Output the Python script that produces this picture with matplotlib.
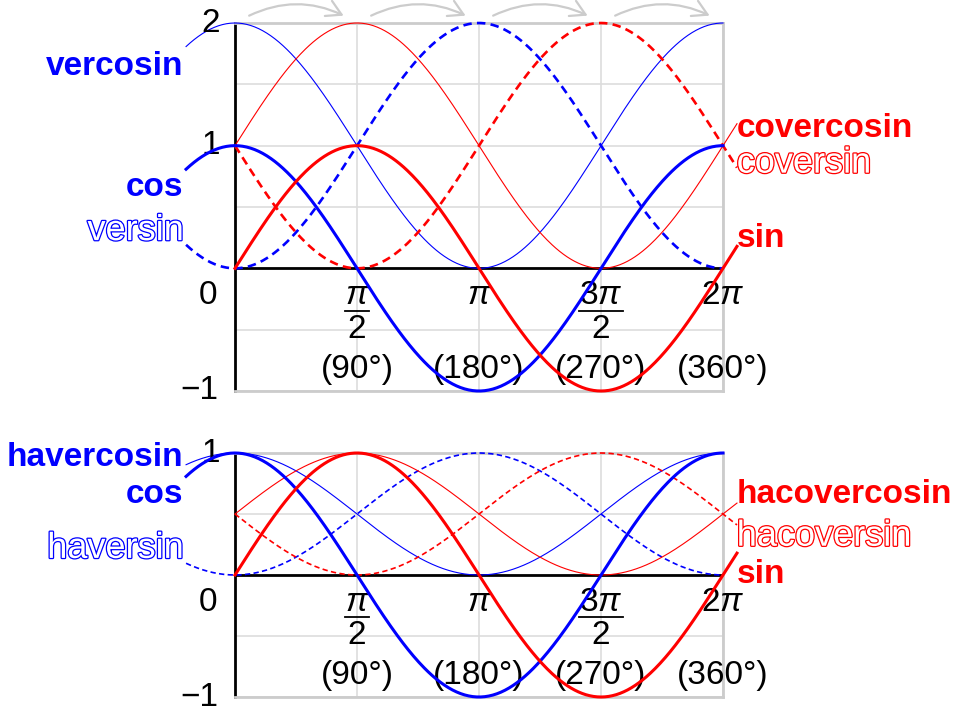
import numpy as np
import matplotlib.pyplot as plt
import matplotlib.patheffects as pe
from matplotlib import font_manager
from matplotlib.patches import FancyArrowPatch

plt.rcParams['font.family'] = ['Liberation Sans', 'DejaVu Sans']
plt.rcParams['mathtext.fontset'] = 'custom'
plt.rcParams['mathtext.rm'] = 'Liberation Sans'
plt.rcParams['mathtext.it'] = 'Liberation Sans:italic'

BLUE = '#0000ff'
RED = '#ff0000'

# narrow face if there is one, else plain Liberation Sans a bit smaller
_names = {f.name for f in font_manager.fontManager.ttflist}
if 'Liberation Sans Narrow' in _names:
    LABEL_FONT, BOLD_SIZE, OUTLINE_SIZE = 'Liberation Sans Narrow', 28, 29
else:
    LABEL_FONT, BOLD_SIZE, OUTLINE_SIZE = 'Liberation Sans', 24, 26
TICK_SIZE = 24

# x ticks (radians) and their labels: (numerator, denominator) or plain
x_ticks = np.pi * np.array([0.5, 1.0, 1.5, 2.0])
pi_labels = [(r'$\pi$', '2'), (r'$\pi$', None), (r'$3\pi$', '2'), (r'$2\pi$', None)]
deg_labels = ['(90°)', '(180°)', '(270°)', '(360°)']

# curves of each panel
top_names = ['vercosin', 'cos', 'versin', 'covercosin', 'coversin', 'sin']
top_funcs = [lambda x: 1 + np.cos(x), np.cos, lambda x: 1 - np.cos(x),
             lambda x: 1 + np.sin(x), lambda x: 1 - np.sin(x), np.sin]
bot_names = ['havercosin', 'cos', 'haversin', 'hacovercosin', 'hacoversin', 'sin']
bot_funcs = [lambda x: (1 + np.cos(x)) / 2, np.cos, lambda x: (1 - np.cos(x)) / 2,
             lambda x: (1 + np.sin(x)) / 2, lambda x: (1 - np.sin(x)) / 2, np.sin]
colors = [BLUE, BLUE, BLUE, RED, RED, RED]
kinds = ['thin', 'thick', 'dash', 'thin', 'dash', 'thick']
label_styles = ['bold', 'bold', 'outline', 'bold', 'outline', 'bold']

# label anchors (data x, baseline y)
top_label_pos = [(-0.66, 1.58), (-0.66, 0.59), (-0.66, 0.23),
                 (6.46, 1.07), (6.46, 0.78), (6.46, 0.17)]
bot_label_pos = [(-0.66, 0.89), (-0.66, 0.59), (-0.66, 0.14),
                 (6.46, 0.59), (6.46, 0.24), (6.46, -0.065)]

fig = plt.figure(figsize=(9.6, 7.2), dpi=100)
renderer = fig.canvas.get_renderer()


def draw_panel(ax, ymax, funcs, names, label_pos, dash_lw):
    ax.set_xlim(0, 2 * np.pi)
    ax.set_ylim(-1, ymax)
    ax.set_xticks(np.pi * np.arange(0, 2.01, 0.5))
    ax.set_yticks(np.arange(-1, ymax + 0.01, 0.5))
    ax.grid(color='#dddddd', lw=1.2)
    ax.tick_params(length=0, labelleft=False, labelbottom=False)
    for s in ['top', 'right', 'bottom']:
        ax.spines[s].set_color('#cccccc')
        ax.spines[s].set_linewidth(2)
    ax.spines['left'].set_color('black')
    ax.spines['left'].set_linewidth(2)
    ax.axhline(0, color='black', lw=2, zorder=2)

    for f, name, c, kind, style, (lx, ly) in zip(funcs, names, colors, kinds,
                                                 label_styles, label_pos):
        if c == BLUE:
            x = np.linspace(-0.63, 2 * np.pi, 400)
        else:
            x = np.linspace(0, 2 * np.pi + 0.18, 400)
        if kind == 'thick':
            ax.plot(x, f(x), color=c, lw=2.2, clip_on=False, zorder=4)
        elif kind == 'thin':
            ax.plot(x, f(x), color=c, lw=0.8, clip_on=False, zorder=3)
        else:
            ax.plot(x, f(x), color=c, lw=dash_lw, ls=(0, (3.2, 2)),
                    clip_on=False, zorder=3)
        ha = 'right' if c == BLUE else 'left'
        if style == 'bold':
            ax.text(lx, ly, name, color=c, fontsize=BOLD_SIZE, fontweight='bold',
                    family=LABEL_FONT, ha=ha, va='baseline')
        else:
            t = ax.text(lx, ly, name, color='white', fontsize=OUTLINE_SIZE,
                        family=LABEL_FONT, ha=ha, va='baseline')
            t.set_path_effects([pe.Stroke(linewidth=1.8, foreground=c),
                                pe.Normal()])

    # x tick labels: fraction rows and degrees
    y_num, y_bar, y_den, y_deg = -0.225, -0.345, -0.50, -0.825
    for xt, (num, den), dl in zip(x_ticks, pi_labels, deg_labels):
        t = ax.text(xt, y_num, num, fontsize=TICK_SIZE, ha='center', va='center')
        if den is not None:
            ax.text(xt, y_den, den, fontsize=TICK_SIZE, ha='center', va='center')
            bb = t.get_window_extent(renderer).transformed(ax.transData.inverted())
            ax.plot([bb.x0, bb.x1], [y_bar, y_bar], color='black', lw=1.3,
                    clip_on=False, zorder=5)
        ax.text(xt, y_deg, dl, fontsize=TICK_SIZE, ha='center', va='center')

    # y tick labels
    ax.text(-0.23, y_num, '0', fontsize=TICK_SIZE, ha='right', va='center')
    ax.text(-0.22, -1, '\u22121', fontsize=TICK_SIZE, ha='right', va='center')
    for yv in range(1, int(ymax) + 1):
        ax.text(-0.19, yv, str(yv), fontsize=TICK_SIZE, ha='right', va='center')


ax1 = fig.add_axes([235 / 960, 1 - 391 / 720, 488 / 960, 368 / 720])
ax2 = fig.add_axes([235 / 960, 1 - 697 / 720, 488 / 960, 244 / 720])

draw_panel(ax1, 2, top_funcs, top_names, top_label_pos, 1.9)
draw_panel(ax2, 1, bot_funcs, bot_names, bot_label_pos, 1.2)

# quarter-turn shift arrows above the top panel
for k in range(4):
    arr = FancyArrowPatch((k * np.pi / 2 + 0.15, 2.05),
                          ((k + 1) * np.pi / 2 - 0.14, 2.05),
                          connectionstyle='arc3,rad=-0.25',
                          arrowstyle='->,head_length=0.7,head_width=0.4',
                          mutation_scale=15, color='#cccccc', lw=1.6,
                          clip_on=False)
    ax1.add_patch(arr)

fig.savefig('out.png', dpi=100)
